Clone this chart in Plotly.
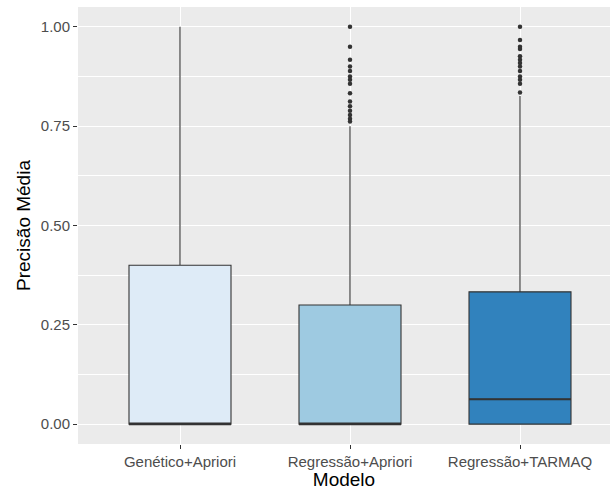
import plotly.graph_objects as go

categories = ["Genético+Apriori", "Regressão+Apriori", "Regressão+TARMAQ"]
q1 = [0.0, 0.0, 0.0]
medians = [0.0, 0.0, 0.0625]
q3 = [0.40, 0.30, 0.333]
lower = [0.0, 0.0, 0.0]
upper = [1.0, 0.75, 0.826]
fills = ["#DEEBF7", "#9ECAE1", "#3182BD"]

outliers_ra = [1.0, 0.95, 0.917, 0.90, 0.889, 0.875, 0.867, 0.857, 0.833,
               0.812, 0.80, 0.789, 0.778, 0.769, 0.762]
outliers_rt = [1.0, 0.967, 0.95, 0.944, 0.926, 0.917, 0.909, 0.90, 0.889,
               0.875, 0.867, 0.857, 0.835]
outliers = [[], outliers_ra, outliers_rt]

LINE = "#333333"
BOX_W = 0.6

fig = go.Figure()
for i, cat in enumerate(categories):
    fig.add_trace(go.Box(
        x=[i], q1=[q1[i]], median=[medians[i]], q3=[q3[i]],
        lowerfence=[lower[i]], upperfence=[upper[i]],
        width=BOX_W, fillcolor=fills[i], whiskerwidth=0,
        line=dict(color=LINE, width=1.1), boxpoints=False,
        showlegend=False, hoverinfo="skip",
    ))
    # thicker median line, like ggplot's fatten
    fig.add_trace(go.Scatter(
        x=[i - BOX_W / 2, i + BOX_W / 2], y=[medians[i], medians[i]],
        mode="lines", line=dict(color=LINE, width=2),
        showlegend=False, hoverinfo="skip",
    ))
    if outliers[i]:
        fig.add_trace(go.Scatter(
            x=[i] * len(outliers[i]), y=outliers[i], mode="markers",
            marker=dict(color=LINE, size=4.5),
            showlegend=False, hoverinfo="skip",
        ))

W, H = 610, 490
ml, mr, mt, mb = 78, 0, 7, 46
pw = W - ml - mr
spacing = 170.0
x0 = -0.6
x1 = x0 + pw / spacing

fig.update_layout(
    width=W, height=H,
    margin=dict(l=ml, r=mr, t=mt, b=mb),
    paper_bgcolor="white", plot_bgcolor="#EBEBEB",
    font=dict(family="Liberation Sans, Arial, sans-serif"),
    xaxis=dict(
        range=[x0, x1], tickmode="array", tickvals=[0, 1, 2], ticktext=categories,
        showgrid=True, gridcolor="white", gridwidth=1.1, zeroline=False,
        ticks="outside", ticklen=4, tickcolor=LINE, tickwidth=1,
        tickfont=dict(size=15, color="#4D4D4D"),
        title=dict(text="Modelo", font=dict(size=19, color="black"), standoff=3),
        showline=False,
    ),
    yaxis=dict(
        range=[-0.05, 1.05], tickmode="array",
        tickvals=[0, 0.25, 0.5, 0.75, 1.0],
        ticktext=["0.00", "0.25", "0.50", "0.75", "1.00"],
        showgrid=True, gridcolor="white", gridwidth=1.1, zeroline=False,
        ticks="outside", ticklen=4, tickcolor=LINE, tickwidth=1,
        tickfont=dict(size=15, color="#4D4D4D"),
        title=dict(text="Precisão Média", font=dict(size=19, color="black"), standoff=5),
        minor=dict(tickvals=[0.125, 0.375, 0.625, 0.875], showgrid=True,
                   gridcolor="white", gridwidth=0.5, ticks=""),
        showline=False,
    ),
)

fig.write_html("out.html")
